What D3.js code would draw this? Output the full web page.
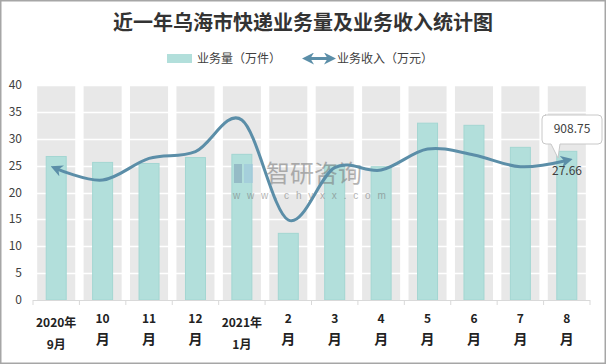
<!DOCTYPE html>
<html><head><meta charset="utf-8">
<script src="https://cdn.jsdelivr.net/npm/d3@7/dist/d3.min.js"></script>
<style>body{margin:0;background:#fff}svg{display:block}text{font-family:"Noto Sans CJK SC","Noto Sans",sans-serif}</style>
</head><body><svg id="c" width="606" height="364"></svg>
<script>
const categories = ["2020年9月","10月","11月","12月","2021年1月","2月","3月","4月","5月","6月","7月","8月"];
const tickLines = [["2020年","9月"],["10","月"],["11","月"],["12","月"],["2021年","1月"],["2","月"],["3","月"],["4","月"],["5","月"],["6","月"],["7","月"],["8","月"]];
const volume = [26.7, 25.6, 25.4, 26.5, 27.1, 12.4, 25.1, 24.8, 32.9, 32.5, 28.4, 27.66];
const revenue = [856, 781, 922, 966, 1172, 521, 862, 846, 983, 944, 868, 908.75];
const yTicks = [0,5,10,15,20,25,30,35,40];

const svg = d3.select("#c");
svg.append("rect").attr("x",0.75).attr("y",0.75).attr("width",604.5).attr("height",362.5)
  .attr("fill","#fff").attr("stroke","#a6a6a6").attr("stroke-width",1.5);

const x = d3.scaleBand().domain(categories).range([33,590]).padding(0);
const y = d3.scaleLinear().domain([0,40]).range([300,85]);
const y2 = d3.scaleLinear().domain([0,1400]).range([300,85]);

// title
svg.append("text").attr("x",303).attr("y",30).attr("text-anchor","middle")
  .attr("font-size",20).attr("font-weight","bold").attr("fill","#333").text("近一年乌海市快递业务量及业务收入统计图");

// legend
const lg = svg.append("g");
lg.append("rect").attr("x",167).attr("y",54).attr("width",25).attr("height",9).attr("fill","#b2dfdb");
lg.append("text").attr("x",197).attr("y",63).attr("font-size",12).attr("fill","#404040").text("业务量（万件）");
const arrowDefs = svg.append("defs");
arrowDefs.append("marker").attr("id","ah").attr("viewBox","0 0 10 10").attr("refX",5).attr("refY",5)
  .attr("markerWidth",4).attr("markerHeight",4).attr("orient","auto-start-reverse")
  .append("path").attr("d","M0,0L10,5L0,10L3,5Z").attr("fill","#5b8ea8");
lg.append("line").attr("x1",308).attr("x2",330).attr("y1",58.5).attr("y2",58.5)
  .attr("stroke","#5b8ea8").attr("stroke-width",3)
  .attr("marker-start","url(#ah)").attr("marker-end","url(#ah)");
lg.append("text").attr("x",337).attr("y",63).attr("font-size",12).attr("fill","#404040").text("业务收入（万元）");

// gray columns
const colW = 38;
svg.append("g").selectAll("rect").data(categories).join("rect")
  .attr("x",d=>x(d)+x.bandwidth()/2-colW/2).attr("width",colW)
  .attr("y",y(40)).attr("height",y(0)-y(40)).attr("fill","#e8e8e8");

// gridlines
svg.append("g").selectAll("line").data(yTicks.slice(1)).join("line")
  .attr("x1",33).attr("x2",590).attr("y1",d=>Math.round(y(d))+0.5).attr("y2",d=>Math.round(y(d))+0.5)
  .attr("stroke","#fff").attr("stroke-width",1.5);

// y labels
svg.append("g").selectAll("text").data(yTicks).join("text")
  .attr("x",22).attr("y",d=>y(d)+4).attr("text-anchor","end").attr("font-size",12)
  .attr("fill","#404040").text(d=>d);

// bars
const barW = 20;
svg.append("g").selectAll("rect").data(volume).join("rect")
  .attr("x",(d,i)=>x(categories[i])+x.bandwidth()/2-barW/2).attr("width",barW)
  .attr("y",d=>y(d)).attr("height",d=>y(0)-y(d))
  .attr("fill","#b2dfdb").attr("stroke","#a3d6d2").attr("stroke-width",1);

// x axis
const xa = svg.append("g");
xa.append("line").attr("x1",33).attr("x2",590).attr("y1",300.5).attr("y2",300.5).attr("stroke","#d9d9d9");
xa.selectAll("line.t").data(d3.range(categories.length+1)).join("line").attr("class","t")
  .attr("x1",i=>33+i*x.bandwidth()).attr("x2",i=>33+i*x.bandwidth())
  .attr("y1",300).attr("y2",305).attr("stroke","#d9d9d9");
tickLines.forEach((ls,i)=>{
  const cx = x(categories[i])+x.bandwidth()/2;
  const long = ls[0].length>2;
  xa.append("text").attr("x",cx).attr("y",long?327:323).attr("text-anchor","middle")
    .attr("font-size",12).attr("font-weight","bold").attr("fill","#222").text(ls[0]);
  xa.append("text").attr("x",cx).attr("y",long?349:344).attr("text-anchor","middle")
    .attr("font-size",long?12:14).attr("font-weight","bold").attr("fill","#222").text(ls[1]);
});

// watermark
const wm = svg.append("g").attr("opacity",0.55);
wm.append("rect").attr("x",234).attr("y",164).attr("width",8).attr("height",19).attr("fill","#7f9fb5");
wm.append("rect").attr("x",244).attr("y",164).attr("width",9).attr("height",19).attr("fill","#9cc3dc");
wm.append("text").attr("x",266).attr("y",182).attr("font-size",24).attr("fill","#777").text("智研咨询");
wm.append("text").attr("x",233).attr("y",199).attr("font-size",10).attr("fill","#777")
  .style("font-family","'Liberation Sans',sans-serif")
  .attr("letter-spacing",6.8).text("www.chyxx.com");

// line
const pts = revenue.map((d,i)=>[x(categories[i])+x.bandwidth()/2, y2(d)]);
svg.append("path").datum(pts)
  .attr("d",d3.line().curve(d3.curveCatmullRom.alpha(0)))
  .attr("fill","none").attr("stroke","#5b8ea8").attr("stroke-width",3)
  .attr("marker-start","url(#ah)").attr("marker-end","url(#ah)");

// labels on last point
const cb = svg.append("g");
cb.append("path").attr("d","M545,115 H598 Q602,115 602,119 V140 Q602,144 598,144 H560 L558,158 L551,144 H546 Q542,144 542,140 V119 Q542,115 546,115 Z")
  .attr("fill","#fff").attr("stroke","#c8c8c8");
cb.append("text").attr("x",572).attr("y",133).attr("text-anchor","middle").attr("font-size",12)
  .attr("fill","#404040").text(revenue[revenue.length-1]);
svg.append("text").attr("x",567).attr("y",175).attr("text-anchor","middle").attr("font-size",12)
  .attr("fill","#404040").text(volume[volume.length-1]);
</script></body></html>
